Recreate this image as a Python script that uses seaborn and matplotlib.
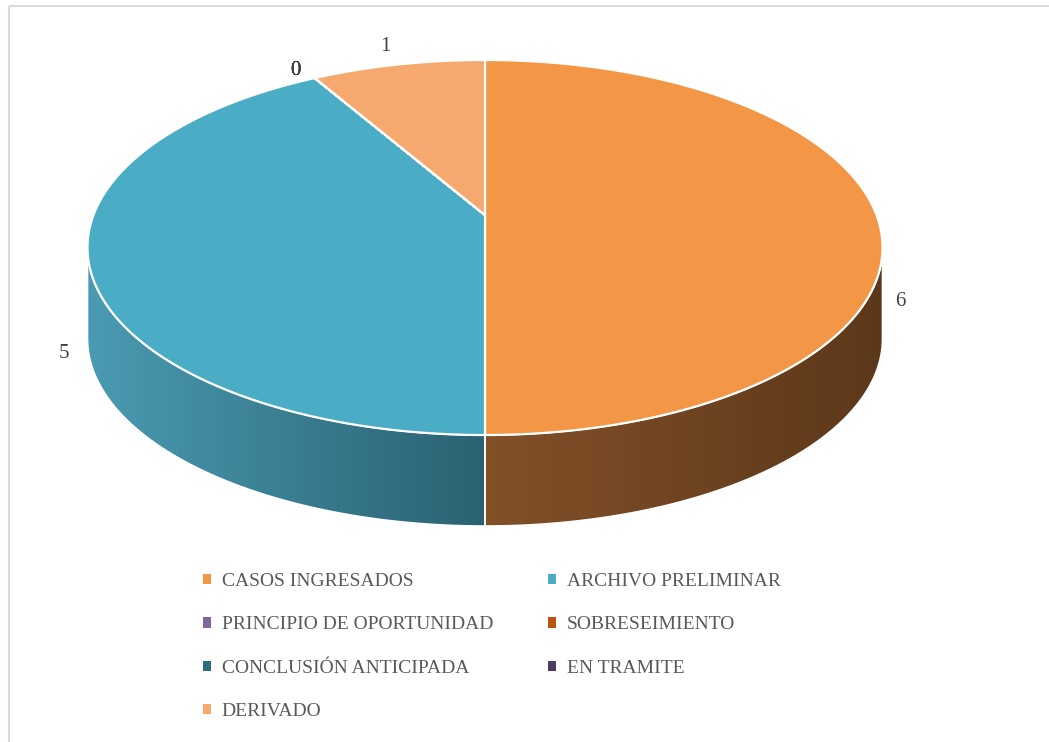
import numpy as np
import matplotlib
matplotlib.use("Agg")
import matplotlib.pyplot as plt
import matplotlib.transforms as mtransforms
from matplotlib.path import Path
from matplotlib.patches import PathPatch, Rectangle, Patch
from matplotlib.colors import LinearSegmentedColormap
import seaborn as sns

# ---------------- data ----------------
categories = ["CASOS INGRESADOS", "ARCHIVO PRELIMINAR", "PRINCIPIO DE OPORTUNIDAD",
              "SOBRESEIMIENTO", "CONCLUSIÓN ANTICIPADA", "EN TRAMITE", "DERIVADO"]
values = [6, 5, 0, 0, 0, 0, 1]
value_labels = ["6", "5", "0", "0", "0", "0", "1"]

top_colors = ["#F39646", "#4BACC6", "#8064A2", "#B85410", "#2C6E80", "#4D3B62", "#F5A96E"]
side_colors = [("#835028", "#5C381A"), ("#4A9BB2", "#2A6272"), ("#5A4672", "#3F3150"),
               ("#7A380A", "#5A2A08"), ("#1F4E5A", "#173B44"), ("#362944", "#281E33"),
               ("#B07A50", "#8A5E3C")]

# ---------------- style ----------------
sns.set_theme(style="white")
plt.rcParams["font.family"] = ["Liberation Serif", "DejaVu Serif"]
palette = sns.color_palette(top_colors)

W, H = 1049, 742
fig = plt.figure(figsize=(W / 100, H / 100), dpi=100)
ax = fig.add_axes([0, 0, 1, 1])

# perspective geometry (pixel space)
CX, CY = 485.0, 215.0
A, B, K = 391.5, 181.9, 0.1733
DEPTH = 91.0


class Perspective(mtransforms.Transform):
    input_dims = 2
    output_dims = 2
    is_separable = False
    has_inverse = False

    def transform_non_affine(self, values):
        v = np.asarray(values, dtype=float).reshape(-1, 2)
        w = 1.0 + K * v[:, 1]
        return np.column_stack([CX + A * v[:, 0] / w, CY - B * v[:, 1] / w])

    def transform_path_non_affine(self, path):
        verts, codes = [], []
        for seg, code in path.iter_bezier():
            cp = seg.control_points
            if code == Path.MOVETO:
                verts.append(cp[-1])
                codes.append(Path.MOVETO)
                continue
            n = 2 if len(cp) == 2 else 40
            t = np.linspace(0, 1, n)[1:]
            pts = seg(t)
            verts.extend(list(pts))
            codes.extend([Path.LINETO] * len(pts))
        return Path(self.transform_non_affine(np.array(verts)), codes)


proj = Perspective()

# ---------------- top pie ----------------
wedges, _ = ax.pie(values, colors=palette, startangle=90, counterclock=False,
                   radius=1, center=(0, 0),
                   wedgeprops=dict(edgecolor="white", linewidth=1.6))
for w in wedges:
    w.set_transform(proj + ax.transData)
    w.set_zorder(3)

# ---------------- side (extrusion) ----------------
s = np.degrees(np.arcsin(K))
vis_lo, vis_hi = 180 + s, 360 - s
for w, (cl, cr) in zip(wedges, side_colors):
    t1, t2 = w.theta1, w.theta2
    for k in range(-2, 3):
        lo = max(t1, vis_lo + 360 * k)
        hi = min(t2, vis_hi + 360 * k)
        if hi - lo <= 1e-6:
            continue
        th = np.radians(np.linspace(lo, hi, 200))
        rim = proj.transform(np.column_stack([np.cos(th), np.sin(th)]))
        bottom = rim[::-1] + np.array([0, DEPTH])
        poly = np.vstack([rim, bottom, rim[:1]])
        path = Path(poly, closed=True)
        x0, x1 = poly[:, 0].min(), poly[:, 0].max()
        y0, y1 = poly[:, 1].min(), poly[:, 1].max()
        cmap = LinearSegmentedColormap.from_list("side", [cl, cr])
        grad = np.linspace(0, 1, 256)[None, :]
        im = ax.imshow(grad, cmap=cmap, extent=(x0, x1, y1, y0), aspect="auto",
                       interpolation="bilinear", zorder=1)
        clip = PathPatch(path, transform=ax.transData, facecolor="none")
        im.set_clip_path(clip)
        ax.add_patch(PathPatch(path, facecolor="none", edgecolor="white",
                               linewidth=1.2, zorder=2))

# ---------------- data labels ----------------
cum = 0.0
total = float(sum(values))
for v, lab in zip(values, value_labels):
    mid = np.radians(90 - (cum + v / 2.0) / total * 360.0)
    cum += v
    yy = np.sin(mid)
    r = 1.06 + 0.04 * max(yy, 0)
    px, py = proj.transform(np.array([[r * np.cos(mid), r * yy]]))[0]
    py += DEPTH * (0.95 - 1.05 * max(yy, 0))
    if yy > 0.5:
        px -= 6
    ax.text(px, py, lab, ha="center", va="center", fontsize=15, color="#404040", zorder=5)

# ---------------- legend ----------------
handles = [Patch(facecolor=c, edgecolor="none") for c in palette]
order = [0, 2, 4, 6, 1, 3, 5]
leg = ax.legend([handles[i] for i in order], [categories[i] for i in order], ncol=2,
                loc="upper left", bbox_to_anchor=(203 / W, 1 - 573 / H),
                bbox_transform=fig.transFigure, frameon=False, fontsize=14,
                handlelength=0.42, handleheight=0.42, handletextpad=0.55,
                columnspacing=2.8, labelspacing=1.36, borderpad=0, borderaxespad=0)
for t in leg.get_texts():
    t.set_color("#595959")

# outer frame
ax.add_patch(Rectangle((8.5, 5.5), 1200, 900, fill=False, edgecolor="#D9D9D9",
                       linewidth=1.5, zorder=0))

ax.set_xlim(0, W)
ax.set_ylim(H, 0)
ax.set_aspect("auto")
ax.axis("off")

fig.savefig("out.png", dpi=100)
